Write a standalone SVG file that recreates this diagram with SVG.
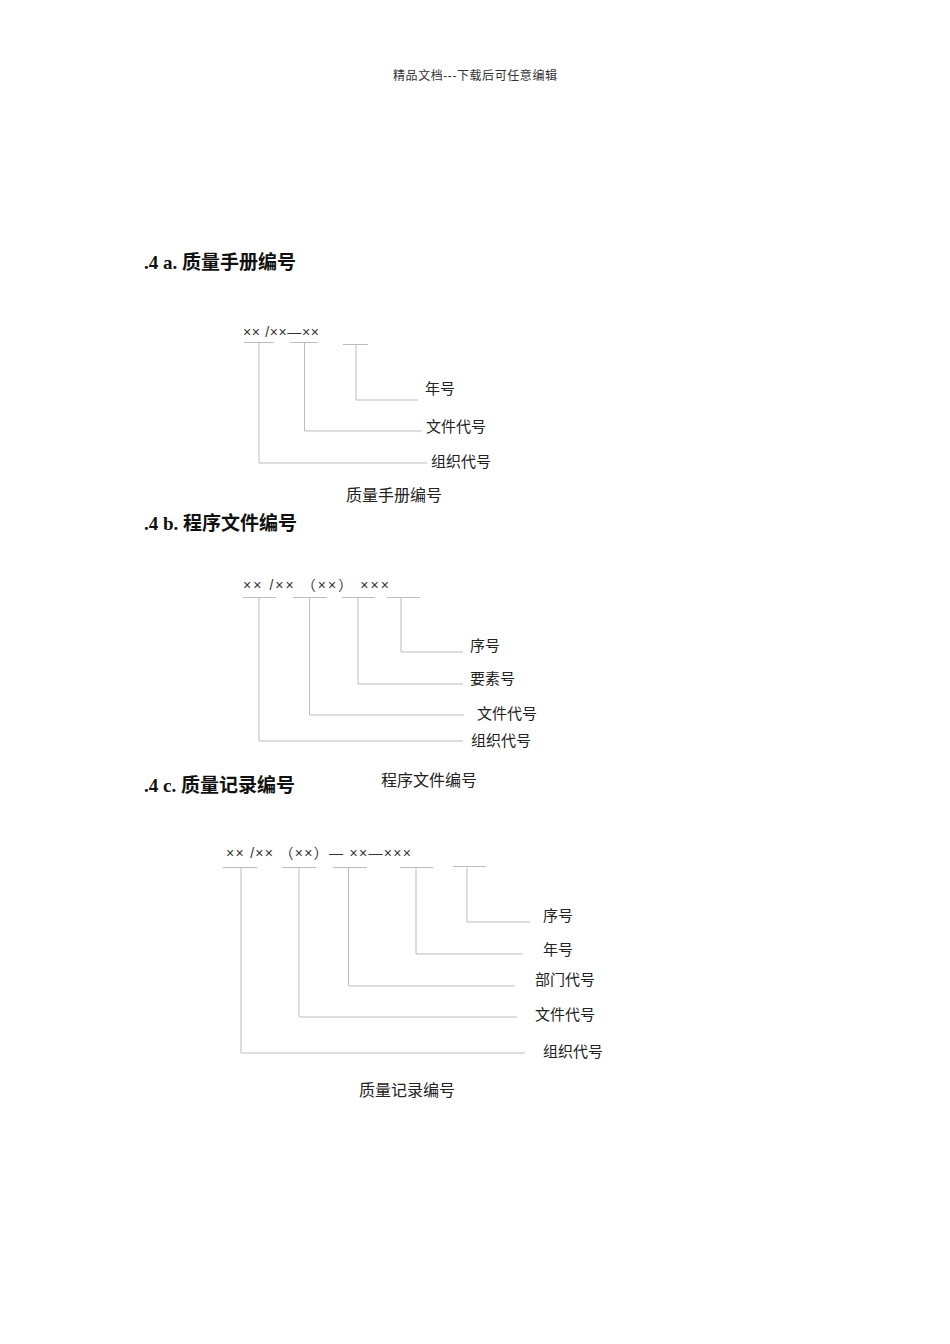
<svg xmlns="http://www.w3.org/2000/svg" width="950" height="1344" viewBox="0 0 950 1344">
<style>
.hdr{font-family:"Liberation Sans","Noto Sans CJK SC",sans-serif;font-size:12px;fill:#333}
.h{font-family:"Liberation Serif","Noto Sans CJK SC",serif;font-size:19px;font-weight:bold;fill:#111}
.code{font-family:"Liberation Sans","Noto Sans CJK SC",sans-serif;font-size:14px;fill:#333}
.lbl{font-family:"Noto Sans CJK SC",sans-serif;font-size:15px;fill:#222}
.cap{font-family:"Noto Sans CJK SC",sans-serif;font-size:16px;fill:#222}
.ln{stroke:#bdbdbd;stroke-width:1;fill:none}
</style>
<rect width="950" height="1344" fill="#fff"/>
<text class="hdr" x="393" y="80" textLength="164">精品文档---下载后可任意编辑</text>

<g id="heading-a"><text class="h" x="144" y="269">.4 a. 质量手册编号</text></g>
<g id="code-a"><text class="code" x="243" y="337" textLength="76">×× /××—××</text></g>
<g id="label-a-year"><text class="lbl" x="425" y="394">年号</text></g>
<g id="label-a-doc"><text class="lbl" x="426" y="432">文件代号</text></g>
<g id="label-a-org"><text class="lbl" x="431" y="467">组织代号</text></g>
<g id="caption-a"><text class="cap" x="346" y="501">质量手册编号</text></g>

<g id="heading-b"><text class="h" x="144" y="530">.4 b. 程序文件编号</text></g>
<g id="code-b"><text class="code" x="243" y="590" textLength="146">×× /×× （××） ×××</text></g>
<g id="label-b-seq"><text class="lbl" x="470" y="651">序号</text></g>
<g id="label-b-elem"><text class="lbl" x="470" y="684">要素号</text></g>
<g id="label-b-doc"><text class="lbl" x="477" y="719">文件代号</text></g>
<g id="label-b-org"><text class="lbl" x="471" y="746">组织代号</text></g>
<g id="caption-b"><text class="cap" x="381" y="786">程序文件编号</text></g>

<g id="heading-c"><text class="h" x="144" y="792">.4 c. 质量记录编号</text></g>
<g id="code-c"><text class="code" x="226" y="858" textLength="185">×× /×× （××）— ××—×××</text></g>
<g id="label-c-seq"><text class="lbl" x="543" y="921">序号</text></g>
<g id="label-c-year"><text class="lbl" x="543" y="955">年号</text></g>
<g id="label-c-dept"><text class="lbl" x="535" y="985">部门代号</text></g>
<g id="label-c-doc"><text class="lbl" x="535" y="1020">文件代号</text></g>
<g id="label-c-org"><text class="lbl" x="543" y="1057">组织代号</text></g>
<g id="caption-c"><text class="cap" x="359" y="1096">质量记录编号</text></g>

<g id="connectors" class="ln">
<path d="M244 342.5H274M290 342.5H318M343 344.5H368"/>
<path d="M259 342.5V463H427"/>
<path d="M304.5 342.5V431H422"/>
<path d="M356 344.5V400H418"/>

<path d="M243 597.5H276M293 597.5H327M342 597.5H375M387 597.5H420"/>
<path d="M259 597.5V741H463"/>
<path d="M309.5 597.5V715H464"/>
<path d="M358 597.5V684H463"/>
<path d="M401 597.5V652H463"/>

<path d="M223 867.5H257M282 867.5H316M333 867.5H367M400 867.5H433M453 866.5H486"/>
<path d="M241 867.5V1053H525"/>
<path d="M299 867.5V1017H517"/>
<path d="M348.5 867.5V986H515"/>
<path d="M416 867.5V954H523"/>
<path d="M467 867.5V922H530"/>
</g>
</svg>
